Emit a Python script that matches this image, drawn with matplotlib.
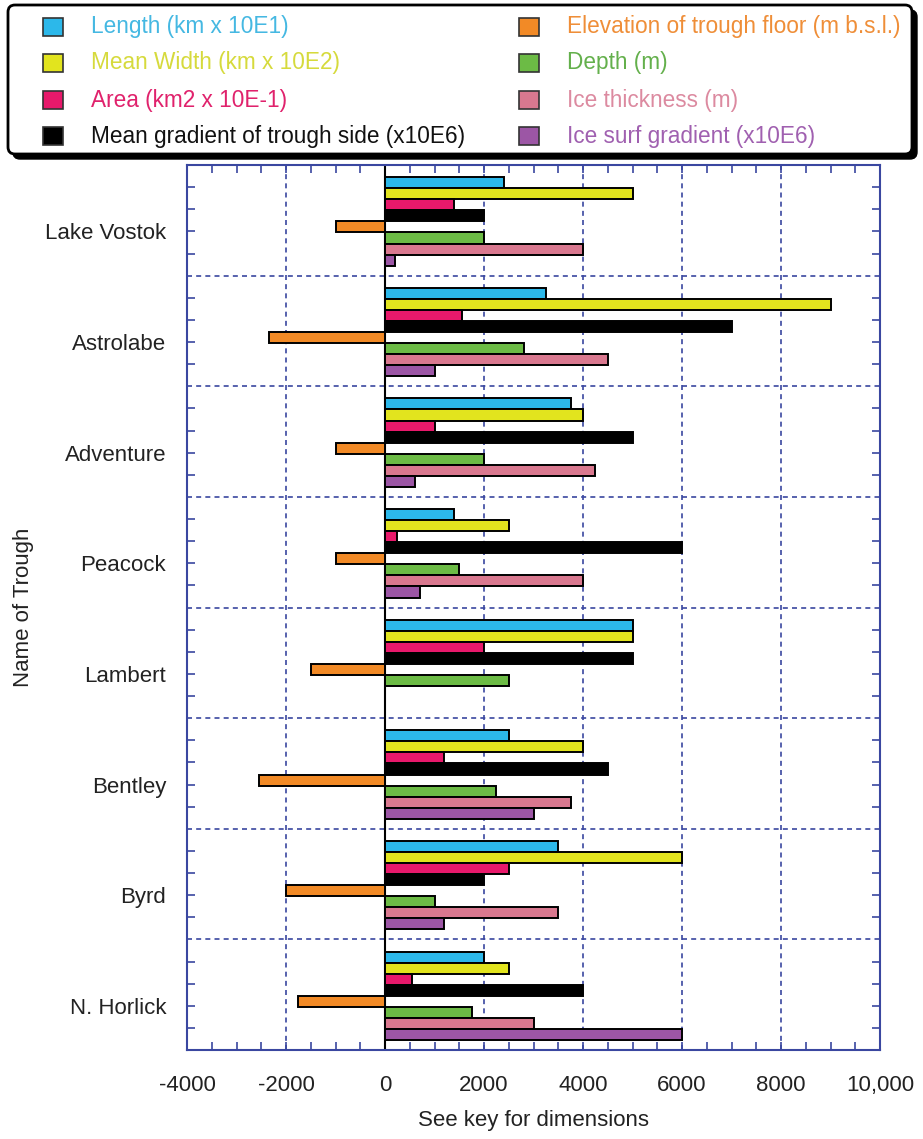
import numpy as np
import matplotlib
matplotlib.use('Agg')
import matplotlib.pyplot as plt
from matplotlib.patches import FancyBboxPatch, Rectangle
from matplotlib.ticker import MultipleLocator, FixedLocator, FuncFormatter

plt.rcParams['font.family'] = ['Liberation Sans', 'DejaVu Sans']

# data (x axis units: see key)
troughs = ['Lake Vostok', 'Astrolabe', 'Adventure', 'Peacock',
           'Lambert', 'Bentley', 'Byrd', 'N. Horlick']
series = ['Length (km x 10E1)', 'Mean Width (km x 10E2)', 'Area (km2 x 10E-1)',
          'Mean gradient of trough side (x10E6)',
          'Elevation of trough floor (m b.s.l.)', 'Depth (m)',
          'Ice thickness (m)', 'Ice surf gradient (x10E6)']
length = [2400, 3250, 3750, 1400, 5000, 2500, 3500, 2000]
mean_width = [5000, 9000, 4000, 2500, 5000, 4000, 6000, 2500]
area = [1400, 1550, 1000, 250, 2000, 1200, 2500, 550]
gradient = [2000, 7000, 5000, 6000, 5000, 4500, 2000, 4000]
elevation = [-1000, -2350, -1000, -1000, -1500, -2550, -2000, -1750]
depth = [2000, 2800, 2000, 1500, 2500, 2250, 1000, 1750]
ice_thick = [4000, 4500, 4250, 4000, np.nan, 3750, 3500, 3000]
ice_grad = [200, 1000, 600, 700, np.nan, 3000, 1200, 6000]
xticks = [-4000, -2000, 0, 2000, 4000, 6000, 8000, 10000]

values = [length, mean_width, area, gradient, elevation, depth, ice_thick, ice_grad]
colors = ['#2cb8ea', '#e2e41e', '#e8196b', '#000000',
          '#f28a26', '#6cbb45', '#d9788f', '#9c56a5']
text_colors = ['#45b8e2', '#d6da3c', '#e0226c', '#111111',
               '#ef8e38', '#64b04c', '#dc8aa0', '#a060b0']

BLUE = '#3a47a0'
W, H = 923, 1139

fig = plt.figure(figsize=(W / 100, H / 100), dpi=100)

# ---- main chart
ax = fig.add_axes([187 / W, 1 - 1050 / H, 693 / W, 885 / H])
n = len(troughs)
bh = 0.1
for j, (vals, c) in enumerate(zip(values, colors)):
    y = np.arange(n) + 0.11 + bh * j + bh / 2
    ax.barh(y, vals, height=bh, color=c, edgecolor='black', linewidth=1.4, zorder=3)

ax.axvline(0, color='black', lw=1.5, zorder=2.5)
for k in range(1, n):
    ax.axhline(k, color=BLUE, ls=(0, (3, 2.5)), lw=1.2, zorder=1)
ax.grid(axis='x', which='major', color=BLUE, ls=(0, (3, 2.5)), lw=1.2)
ax.set_axisbelow(True)

ax.set_xlim(-4000, 10000)
ax.set_ylim(n, 0)
ax.xaxis.set_major_locator(FixedLocator(xticks))
ax.xaxis.set_major_formatter(FuncFormatter(lambda v, p: '10,000' if v >= 10000 else '%d' % v))
ax.xaxis.set_minor_locator(MultipleLocator(500))
ax.yaxis.set_major_locator(FixedLocator(np.arange(n) + 0.6))
ax.set_yticklabels(troughs)
ax.yaxis.set_minor_locator(FixedLocator(
    [i + f for i in range(n) for f in (0.2, 0.4, 0.8)]))

ax.tick_params(axis='both', which='both', direction='in', color=BLUE,
               width=1.2, length=6, labelcolor='#222222', labelsize=16)
ax.tick_params(axis='x', which='both', top=True, pad=18)
ax.tick_params(axis='y', which='both', right=True, pad=15)
for s in ax.spines.values():
    s.set_color(BLUE)
    s.set_linewidth(1.5)

ax.set_xlabel('See key for dimensions', fontsize=16, color='#222222', labelpad=10)
ax.set_ylabel('Name of Trough', fontsize=16, color='#222222', labelpad=8)

# ---- key box on top
lax = fig.add_axes([0, 1 - 165 / H, 1, 165 / H])
lax.set_xlim(0, W)
lax.set_ylim(165, 0)
lax.axis('off')
shadow = FancyBboxPatch((13, 10), 904, 149, boxstyle='round,pad=0,rounding_size=7',
                        facecolor='black', edgecolor='black', lw=1)
box = FancyBboxPatch((8, 5), 904, 149, boxstyle='round,pad=0,rounding_size=7',
                     facecolor='white', edgecolor='black', lw=2)
lax.add_patch(shadow)
lax.add_patch(box)

rows = [27, 63, 100, 136]
for j, name in enumerate(series):
    col, row = divmod(j, 4)
    mx = 43 if col == 0 else 519
    tx = 91 if col == 0 else 567
    lax.add_patch(Rectangle((mx, rows[row] - 9), 20, 18, facecolor=colors[j],
                            edgecolor='#333333', lw=1.2))
    lax.text(tx, rows[row], name, color=text_colors[j], fontsize=16.3, va='center', ha='left')

fig.savefig('out.png', dpi=100)
